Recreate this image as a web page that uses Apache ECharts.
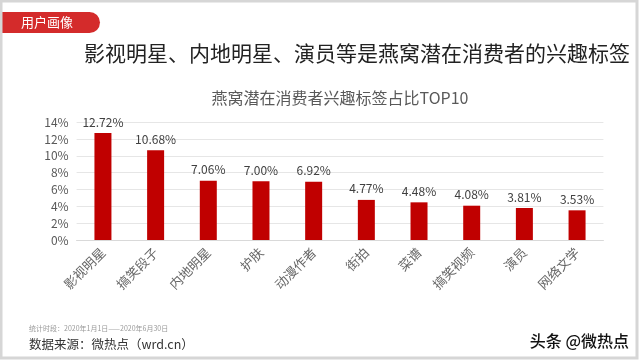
<!DOCTYPE html>
<html><head><meta charset="utf-8">
<script src="https://cdn.jsdelivr.net/npm/echarts@6/dist/echarts.min.js"></script>
<style>html,body{margin:0;padding:0;background:#fff}#c{width:640px;height:360px}</style>
</head><body><div id="c"></div>
<script>
const categories = ['影视明星','搞笑段子','内地明星','护肤','动漫作者','街拍','菜谱','搞笑视频','演员','网络文学'];
const values = [12.72, 10.68, 7.06, 7.00, 6.92, 4.77, 4.48, 4.08, 3.81, 3.53];
const yTicks = [0, 2, 4, 6, 8, 10, 12, 14];
const FONT = '"Noto Sans CJK SC", "Noto Sans", sans-serif';

const chart = echarts.init(document.getElementById('c'), null, {renderer: 'canvas'});
chart.setOption({
  animation: false,
  backgroundColor: '#fff',
  textStyle: {fontFamily: FONT},
  title: {
    text: '燕窝潜在消费者兴趣标签占比TOP10',
    left: 335, top: 85, textAlign: 'center',
    textStyle: {fontFamily: FONT, fontSize: 16, fontWeight: 'normal', color: '#595959'}
  },
  grid: {left: 76.6, right: 36.6, top: 122.3, bottom: 120, containLabel: false},
  xAxis: {
    type: 'category', data: categories,
    axisLine: {lineStyle: {color: '#d9d9d9'}},
    axisTick: {show: false},
    axisLabel: {rotate: 45, color: '#666', fontSize: 13, fontFamily: FONT, margin: 10, interval: 0}
  },
  yAxis: {
    type: 'value', min: yTicks[0], max: yTicks[yTicks.length - 1], interval: 2,
    axisLine: {show: false}, axisTick: {show: false},
    splitLine: {lineStyle: {color: '#e6e6e6'}},
    axisLabel: {formatter: '{value}%', color: '#595959', fontSize: 12, fontFamily: FONT, margin: 8}
  },
  series: [{
    type: 'bar', data: values, barWidth: 17,
    itemStyle: {color: '#C00000'},
    label: {show: true, position: 'top', distance: 5, color: '#404040', fontSize: 12, fontFamily: FONT,
      formatter: p => p.value.toFixed(2) + '%'}
  }],
  graphic: [
    {type: 'rect', shape: {x: 1, y: 1, width: 636, height: 357}, style: {fill: 'none', stroke: '#d6d6d6', lineWidth: 3}, z: 100},
    {type: 'rect', shape: {x: 0, y: 12, width: 100, height: 21, r: [0, 10.5, 10.5, 0]}, style: {fill: '#D42B2B'}},
    {type: 'text', x: 47, y: 22.5, style: {text: '用户画像', fill: '#fff', font: '13px ' + FONT, textAlign: 'center', textVerticalAlign: 'middle'}},
    {type: 'text', x: 357, y: 53, style: {text: '影视明星、内地明星、演员等是燕窝潜在消费者的兴趣标签', fill: '#222', font: '21px ' + FONT, textAlign: 'center', textVerticalAlign: 'middle'}},
    {type: 'text', x: 29, y: 328, style: {text: '统计时段：2020年1月1日——2020年6月30日', fill: '#999', font: '7px ' + FONT, textVerticalAlign: 'middle'}},
    {type: 'text', x: 29, y: 344, style: {text: '数据来源：微热点（wrd.cn）', fill: '#333', font: '12.5px ' + FONT, textVerticalAlign: 'middle'}},
    {type: 'text', x: 629, y: 341, style: {text: '头条 @微热点', fill: '#111', stroke: '#fff', lineWidth: 2, font: '500 16px ' + FONT, textAlign: 'right', textVerticalAlign: 'middle'}}
  ]
});
</script></body></html>
